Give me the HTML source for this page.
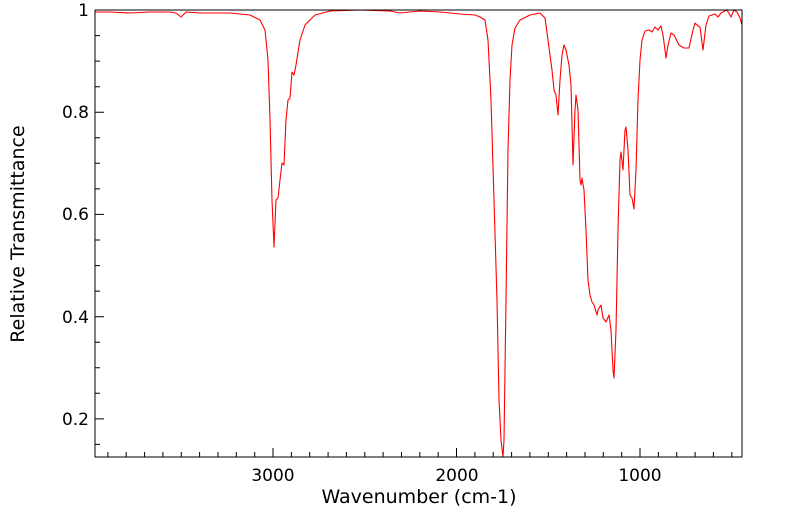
<!DOCTYPE html>
<html><head><meta charset="utf-8"><style>body{margin:0;background:#fff}</style></head><body>
<svg width="799" height="516" xmlns="http://www.w3.org/2000/svg" font-family="DejaVu Sans, Liberation Sans, sans-serif">
<rect width="799" height="516" fill="#fff"/>
<polyline fill="none" stroke="#ff0000" stroke-width="1.1" stroke-linejoin="round" points="95,12 110,12 130,13 150,12 170,12 176,13 181,17 186,12 200,13 230,13 250,15 260,20 265,30 268,60 270,120 272,200 274,247 276,200 278,198 280,180 282,163 284,165 286,120 288,100 290,98 292,72 294,75 296,65 300,40 305,25 315,15 330,11 360,10 390,11 400,13 420,11 440,12 460,14 475,15 480,17 485,20 488,40 491,100 494,200 497,300 499,400 501,440 503,457 504,440 506,300 508,150 510,80 512,45 515,28 520,20 530,15 540,13 545,18 548,40 552,70 554,90 556,95 558,115 560,80 562,55 564,45 566,50 569,65 571,85 573,165 575,110 576,95 578,110 580,180 581,185 582,178 584,190 586,230 588,280 590,295 592,302 594,305 597,315 598,310 601,305 603,318 606,322 609,315 611,330 613,370 614,378 616,330 618,230 620,160 621,152 623,170 625,130 626,127 628,150 630,195 632,198 634,209 636,170 638,100 640,60 642,40 645,31 649,30 652,32 655,27 658,30 661,26 663,35 666,58 668,45 671,33 674,35 679,45 684,48 689,48 693,30 695,23 698,26 700,27 703,50 706,25 709,16 715,14 718,17 721,13 727,10 731,17 734,10 737,12 740,18 742,25"/>
<rect x="95" y="10" width="647" height="447" fill="none" stroke="#000" stroke-width="1"/>
<path stroke="#000" stroke-width="1" fill="none" d="
M107.9,457v-5 M126.2,457v-5 M144.6,457v-5 M162.9,457v-5 M181.3,457v-5 M199.6,457v-5 M218,457v-5 M236.3,457v-5 M254.7,457v-5 M273,457v-9
M291.4,457v-5 M309.7,457v-5 M328.1,457v-5 M346.4,457v-5 M364.8,457v-5 M383.1,457v-5 M401.5,457v-5 M419.8,457v-5 M438.2,457v-5 M456.5,457v-9
M474.9,457v-5 M493.2,457v-5 M511.6,457v-5 M529.9,457v-5 M548.3,457v-5 M566.6,457v-5 M585,457v-5 M603.3,457v-5 M621.7,457v-5 M640,457v-9
M658.4,457v-5 M676.7,457v-5 M695.1,457v-5 M713.4,457v-5 M731.8,457v-5
M95,10h9 M95,35.6h5 M95,61.1h5 M95,86.7h5 M95,112.2h9 M95,137.8h5 M95,163.3h5 M95,188.9h5 M95,214.4h9 M95,240h5 M95,265.6h5 M95,291.1h5 M95,316.7h9 M95,342.2h5 M95,367.8h5 M95,393.3h5 M95,418.9h9 M95,444.4h5"/>
<g font-size="17" fill="#000" text-anchor="end">
<text x="89" y="16">1</text>
<text x="89" y="118">0.8</text>
<text x="89" y="220">0.6</text>
<text x="89" y="323">0.4</text>
<text x="89" y="425">0.2</text>
</g>
<g font-size="17" fill="#000" text-anchor="middle">
<text x="273" y="481">3000</text>
<text x="457" y="481">2000</text>
<text x="640" y="481">1000</text>
</g>
<g font-size="19" fill="#000" text-anchor="middle">
<text x="419" y="503">Wavenumber (cm-1)</text>
<text transform="translate(24,234) rotate(-90)">Relative Transmittance</text>
</g>
</svg>
</body></html>
